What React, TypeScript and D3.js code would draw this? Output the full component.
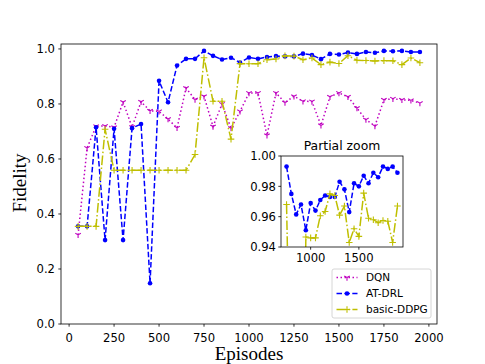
import React from "react";
import * as d3 from "d3";

// episodes sampled every 50
const episodes = [
  50, 100, 150, 200, 250, 300, 350, 400, 450, 500, 550, 600, 650, 700, 750, 800, 850, 900, 950, 1000,
  1050, 1100, 1150, 1200, 1250, 1300, 1350, 1400, 1450, 1500, 1550, 1600, 1650, 1700, 1750, 1800, 1850, 1900, 1950,
];
const dqn = [
  0.324, 0.64, 0.719, 0.72, 0.715, 0.807, 0.716, 0.808, 0.775, 0.773, 0.745, 0.713, 0.858, 0.816, 0.828, 0.718,
  0.8, 0.712, 0.773, 0.84, 0.84, 0.686, 0.84, 0.805, 0.828, 0.81, 0.809, 0.722, 0.826, 0.84, 0.826, 0.785, 0.743,
  0.72, 0.815, 0.819, 0.815, 0.813, 0.803,
];
const atDrl = [
  0.355, 0.355, 0.715, 0.305, 0.71, 0.305, 0.712, 0.727, 0.148, 0.884, 0.806, 0.94, 0.964, 0.964, 0.993, 0.975,
  0.9615, 0.968, 0.951, 0.969, 0.964, 0.971, 0.974, 0.973, 0.973, 0.983, 0.978, 0.963, 0.982, 0.98, 0.987, 0.982,
  0.989, 0.986, 0.993, 0.9915, 0.993, 0.989, 0.989,
];
const ddpg = [
  0.355, 0.355, 0.355, 0.708, 0.559, 0.559, 0.559, 0.559, 0.559, 0.559, 0.559, 0.559, 0.559, 0.616, 0.968, 0.81,
  0.81, 0.672, 0.9466, 0.946, 0.946, 0.9606, 0.9634, 0.975, 0.974, 0.961, 0.967, 0.943, 0.952, 0.947, 0.9755,
  0.959, 0.958, 0.956, 0.9575, 0.957, 0.943, 0.967, 0.95,
];
const seriesNames = ["DQN", "AT-DRL", "basic-DDPG"];
const xTicks = [0, 250, 500, 750, 1000, 1250, 1500, 1750, 2000];
const yTicks = [0, 0.2, 0.4, 0.6, 0.8, 1.0];
const zoomXTicks = [1000, 1500];
const zoomYTicks = [0.94, 0.96, 0.98, 1.0];
const zoomFrom = 750, zoomTo = 1900;

const W = 485, H = 364;
const tickFont = "DejaVu Sans, sans-serif";

const styles = [
  { color: "#bf00bf", dash: "1.5,2.5", marker: "tri" },
  { color: "#0000ff", dash: "5.5,2.4", marker: "dot" },
  { color: "#bfbf00", dash: "9.6,2.4,1.5,2.4", marker: "plus" },
];

function Marker({ kind, x, y, color }: { kind: string; x: number; y: number; color: string }) {
  if (kind === "dot") return <circle cx={x} cy={y} r={2.3} fill={color} />;
  if (kind === "plus")
    return <path d={`M${x - 3.3},${y}H${x + 3.3}M${x},${y - 3.3}V${y + 3.3}`} stroke={color} strokeWidth={1.1} />;
  const r = 3.2;
  return (
    <path
      d={`M${x},${y}V${y + r}M${x},${y}L${x - r * 0.866},${y - r * 0.5}M${x},${y}L${x + r * 0.866},${y - r * 0.5}`}
      stroke={color}
      strokeWidth={1.1}
      fill="none"
    />
  );
}

function Lines({ x, y, idx }: { x: d3.ScaleLinear<number, number>; y: d3.ScaleLinear<number, number>; idx: number[] }) {
  const all = [dqn, atDrl, ddpg];
  return (
    <>
      {all.map((vals, s) => {
        const pts: [number, number][] = idx.map((i) => [x(episodes[i]), y(vals[i])]);
        const line = d3.line()(pts) || "";
        return (
          <g key={s}>
            <path d={line} fill="none" stroke={styles[s].color} strokeWidth={1.5} strokeDasharray={styles[s].dash} />
            {pts.map((p, k) => (
              <Marker key={k} kind={styles[s].marker} x={p[0]} y={p[1]} color={styles[s].color} />
            ))}
          </g>
        );
      })}
    </>
  );
}

export default function App() {
  // main axes
  const x = d3.scaleLinear().domain([-45, 2045]).range([61, 437]);
  const y = d3.scaleLinear().domain([0, 1.018]).range([324, 44]);
  // inset axes
  const zx = d3.scaleLinear().domain([692.5, 1957.5]).range([281, 403]);
  const zy = d3.scaleLinear().domain([0.94, 1.0]).range([247, 156]);

  const allIdx = episodes.map((_, i) => i);
  const zoomIdx = allIdx.filter((i) => episodes[i] >= zoomFrom && episodes[i] <= zoomTo);

  const legX = 332, legY = 269;

  return (
    <svg width={W} height={H} style={{ position: "absolute", left: 0, top: 0, background: "#fff" }}>
      <defs>
        <clipPath id="mainClip">
          <rect x={61} y={44} width={376} height={280} />
        </clipPath>
        <clipPath id="zoomClip">
          <rect x={281} y={156} width={122} height={91} />
        </clipPath>
      </defs>

      <g clipPath="url(#mainClip)">
        <Lines x={x} y={y} idx={allIdx} />
      </g>
      <rect x={61} y={44} width={376} height={280} fill="none" stroke="#000" strokeWidth={0.8} />

      {/* x axis */}
      {xTicks.map((t) => (
        <g key={t}>
          <line x1={x(t)} x2={x(t)} y1={324} y2={326.7} stroke="#000" strokeWidth={0.8} />
          <text x={x(t)} y={341.5} textAnchor="middle" fontSize={11.6} fontFamily={tickFont}>
            {t}
          </text>
        </g>
      ))}
      {/* y axis */}
      {yTicks.map((t) => (
        <g key={t}>
          <line x1={58.3} x2={61} y1={y(t)} y2={y(t)} stroke="#000" strokeWidth={0.8} />
          <text x={55} y={y(t) + 4.2} textAnchor="end" fontSize={11.6} fontFamily={tickFont}>
            {t.toFixed(1)}
          </text>
        </g>
      ))}
      <text x={249} y={360} textAnchor="middle" fontSize={19} fontFamily="Liberation Serif, serif">
        Episodes
      </text>
      <text
        transform={`translate(26,183) rotate(-90)`}
        textAnchor="middle"
        fontSize={19}
        fontFamily="Liberation Serif, serif"
      >
        Fidelity
      </text>

      {/* legend */}
      <rect x={legX} y={legY} width={99} height={49} rx={2} fill="#fff" fillOpacity={0.8} stroke="#ccc" strokeWidth={0.8} />
      {seriesNames.map((n, s) => {
        const ly = legY + 8.5 + s * 16;
        return (
          <g key={n}>
            <line x1={legX + 4.5} x2={legX + 25.5} y1={ly} y2={ly} stroke={styles[s].color} strokeWidth={1.5} strokeDasharray={styles[s].dash} />
            <Marker kind={styles[s].marker} x={legX + 15} y={ly} color={styles[s].color} />
            <text x={legX + 34} y={ly + 3.8} fontSize={10.5} fontFamily={tickFont}>
              {n}
            </text>
          </g>
        );
      })}

      {/* inset */}
      <rect x={281} y={156} width={122} height={91} fill="#fff" />
      <g clipPath="url(#zoomClip)">
        <Lines x={zx} y={zy} idx={zoomIdx} />
      </g>
      <rect x={281} y={156} width={122} height={91} fill="none" stroke="#000" strokeWidth={0.8} />
      {zoomXTicks.map((t) => (
        <g key={t}>
          <line x1={zx(t)} x2={zx(t)} y1={247} y2={249.7} stroke="#000" strokeWidth={0.8} />
          <text x={zx(t)} y={262} textAnchor="middle" fontSize={11.6} fontFamily={tickFont}>
            {t}
          </text>
        </g>
      ))}
      {zoomYTicks.map((t) => (
        <g key={t}>
          <line x1={278.3} x2={281} y1={zy(t)} y2={zy(t)} stroke="#000" strokeWidth={0.8} />
          <text x={276} y={zy(t) + 4.2} textAnchor="end" fontSize={11.6} fontFamily={tickFont}>
            {t.toFixed(2)}
          </text>
        </g>
      ))}
      <text x={342} y={150} textAnchor="middle" fontSize={12.4} fontFamily={tickFont}>
        Partial zoom
      </text>
    </svg>
  );
}
